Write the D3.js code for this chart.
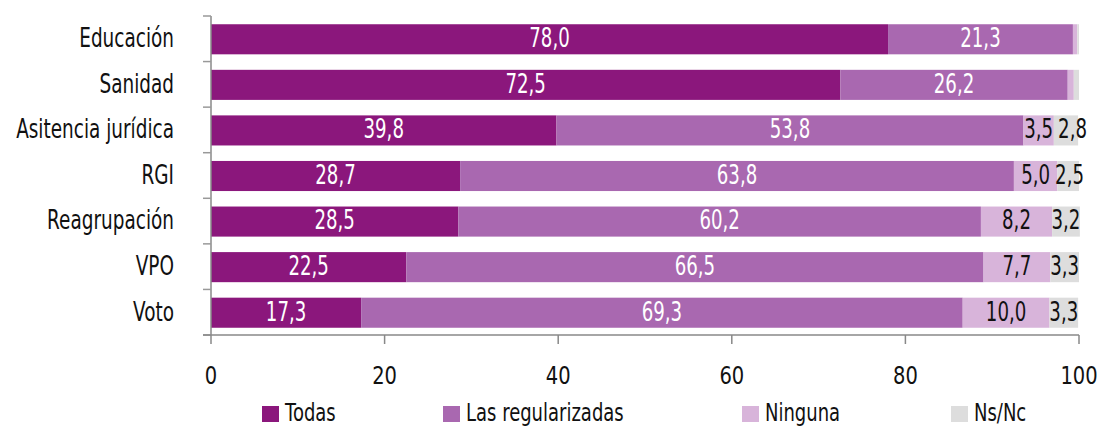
<!DOCTYPE html>
<html>
<head>
<meta charset="utf-8">
<script src="https://cdn.jsdelivr.net/npm/d3@7"></script>
<style>
    body { margin: 0; background: #fff; }
    svg text { font-family: "DejaVu Sans", sans-serif; }
</style>
</head>
<body>
<div class="content"></div>
<script>
(function (window) {
    'use strict';
    var categories = ["Educación", "Sanidad", "Asitencia jurídica", "RGI", "Reagrupación", "VPO", "Voto"],
        series = ["Todas", "Las regularizadas", "Ninguna", "Ns/Nc"],
        todas = [78.0, 72.5, 39.8, 28.7, 28.5, 22.5, 17.3],
        regularizadas = [21.3, 26.2, 53.8, 63.8, 60.2, 66.5, 69.3],
        ninguna = [0.5, 0.7, 3.5, 5.0, 8.2, 7.7, 10.0],
        nsnc = [0.2, 0.6, 2.8, 2.5, 3.2, 3.3, 3.3],
        xTicks = [0, 20, 40, 60, 80, 100],
        colors = ["#8b177c", "#a968b0", "#d8b4da", "#dddddd"],
        labelColors = ["#fff", "#fff", "#111", "#111"],
        width = 1100, height = 427,
        margin = {top: 16, right: 21, bottom: 92, left: 211},
        SX = 0.7,
        svg, x, y, rows, stack, layers, legend;

    // condensed look: the narrow fonts are missing, so squeeze DejaVu horizontally
    function cText(sel, px, py, sx) {
        return sel.attr("transform", function (d, i) {
            return "translate(" + [px(d, i), py(d, i)] + ") scale(" + (sx || SX) + ",1)";
        });
    }

    rows = categories.map(function (c, i) {
        return {cat: c, "Todas": todas[i], "Las regularizadas": regularizadas[i], "Ninguna": ninguna[i], "Ns/Nc": nsnc[i]};
    });

    svg = d3.select(".content").append("svg")
        .attr("width", width)
        .attr("height", height);

    x = d3.scaleLinear().domain([0, 100]).range([margin.left, width - margin.right]);
    y = d3.scaleBand().domain(categories).range([margin.top, height - margin.bottom]).paddingInner(0.34).paddingOuter(0.17);

    stack = d3.stack().keys(series);
    layers = stack(rows);

    // bars
    var g = svg.selectAll("g.layer").data(layers).enter().append("g")
        .attr("class", "layer")
        .attr("fill", function (d, i) { return colors[i]; });
    g.selectAll("rect").data(function (d) { return d; }).enter().append("rect")
        .attr("x", function (d) { return x(d[0]); })
        .attr("y", function (d) { return y(d.data.cat) + 0.5; })
        .attr("width", function (d) { return x(d[1]) - x(d[0]); })
        .attr("height", y.bandwidth());

    // value labels
    var lastRight = {};
    layers.forEach(function (layer, li) {
        var t = svg.selectAll("text.v" + li).data(layer.filter(function (d) { return d[1] - d[0] >= 1; }))
            .enter().append("text")
            .attr("class", "v" + li)
            .attr("dy", "0.32em")
            .attr("text-anchor", "middle")
            .attr("font-size", "26px")
            .attr("fill", labelColors[li])
            .text(function (d) { return (d[1] - d[0]).toFixed(1).replace(".", ","); });
        t.each(function (d) {
            var w = this.getComputedTextLength() * SX,
                cx = x((d[0] + d[1]) / 2),
                prev = lastRight[d.data.cat];
            if (prev !== undefined && cx - w / 2 < prev + 5) {
                cx = prev + 5 + w / 2;
            }
            lastRight[d.data.cat] = cx + w / 2;
            d3.select(this).attr("transform", "translate(" + [cx, y(d.data.cat) + y.bandwidth() / 2] + ") scale(" + SX + ",1)");
        });
    });

    // y axis
    var step = y.step(), yTop = margin.top, yBot = height - margin.bottom;
    svg.append("line")
        .attr("x1", x(0)).attr("x2", x(0))
        .attr("y1", yTop).attr("y2", yBot)
        .attr("stroke", "#888").attr("stroke-width", 1.5);
    svg.selectAll("line.ytick").data(d3.range(categories.length + 1)).enter().append("line")
        .attr("class", "ytick")
        .attr("x1", x(0) - 8).attr("x2", x(0))
        .attr("y1", function (i) { return yTop + i * step; })
        .attr("y2", function (i) { return yTop + i * step; })
        .attr("stroke", "#999").attr("stroke-width", 1.5);
    cText(svg.selectAll("text.ylab").data(categories).enter().append("text")
        .attr("class", "ylab")
        .attr("dy", "0.32em")
        .attr("text-anchor", "end")
        .attr("font-size", "26px")
        .attr("fill", "#111")
        .text(function (d) { return d; }),
        function () { return x(0) - 37; },
        function (d) { return y(d) + y.bandwidth() / 2; }, 0.71);

    // x axis
    svg.append("line")
        .attr("x1", x(0) - 8).attr("x2", x(100))
        .attr("y1", yBot).attr("y2", yBot)
        .attr("stroke", "#888").attr("stroke-width", 1.5);
    svg.selectAll("line.xtick").data(xTicks).enter().append("line")
        .attr("class", "xtick")
        .attr("x1", function (d) { return x(d); }).attr("x2", function (d) { return x(d); })
        .attr("y1", yBot).attr("y2", yBot + 9)
        .attr("stroke", "#888").attr("stroke-width", 1.5);
    cText(svg.selectAll("text.xlab").data(xTicks).enter().append("text")
        .attr("class", "xlab")
        .attr("text-anchor", "middle")
        .attr("font-size", "25px")
        .attr("fill", "#111")
        .text(function (d) { return d; }),
        function (d) { return x(d); },
        function () { return yBot + 49; }, 0.78);

    // legend
    var legendX = [262, 443, 742, 951];
    legend = svg.selectAll("g.legend").data(series).enter().append("g")
        .attr("class", "legend")
        .attr("transform", function (d, i) { return "translate(" + legendX[i] + ",406)"; });
    legend.append("rect")
        .attr("width", 17).attr("height", 16)
        .attr("fill", function (d, i) { return colors[i]; });
    legend.append("text")
        .attr("transform", "translate(23,15) scale(0.72,1)")
        .attr("font-size", "25px")
        .attr("fill", "#111")
        .text(function (d) { return d; });
}(window));
</script>
</body>
</html>
